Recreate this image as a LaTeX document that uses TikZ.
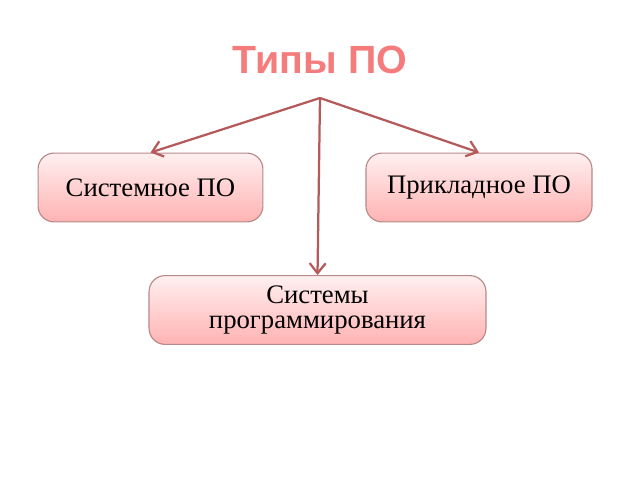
\documentclass[tikz,border=0pt]{standalone}
\usepackage{fontspec}
\setmainfont{Liberation Serif}
\newfontfamily\titlefont{Liberation Sans}
\usetikzlibrary{arrows.meta, positioning}
\definecolor{linkred}{HTML}{B45A5A}
\definecolor{boxedge}{HTML}{B88888}
\definecolor{titlered}{HTML}{F47C7C}
\begin{document}
\begin{tikzpicture}[
  x=0.025cm, y=-0.025cm,
  font=\fontsize{19}{21}\selectfont,
  kind/.style={
    rectangle, rounded corners=4mm,
    draw=boxedge, line width=0.8pt,
    top color=red!6, bottom color=red!30,
    minimum height=1.72cm,
    align=center
  },
  link/.style={-{Straight Barb[length=2.5mm,width=4mm]}, draw=linkred, line width=1.6pt}
]
\useasboundingbox (0,0) rectangle (640,480);

\node[font=\titlefont\bfseries\fontsize{28}{32}\selectfont, text=titlered] (title) at (320,60) {Типы ПО};
\coordinate (fork) at (320,98);

\node[kind, minimum width=5.62cm] (sys) at (150.5,187.5) {Системное ПО};
\node[kind, minimum width=5.65cm] (app) at (479,187.5) {Прикладное ПО};
\node[kind, minimum width=8.42cm, text width=7cm] (prog) at (317.5,310) {Системы\\[-3pt]программирования};

\draw[link] (fork) -- (sys.north);
\draw[link] (fork) -- (app.north);
\draw[link] (fork) -- (prog.north);

\end{tikzpicture}
\end{document}
